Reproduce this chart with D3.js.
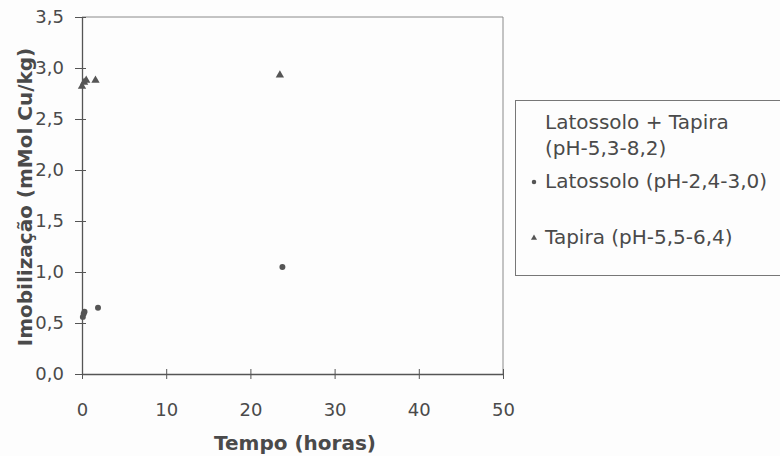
<!DOCTYPE html>
<html>
<head>
<meta charset="utf-8">
<script src="https://cdn.jsdelivr.net/npm/d3@7"></script>
<style>
  body { margin: 0; background: #fdfdfd; }
  text { font-family: "DejaVu Sans", sans-serif; fill: #4a4a4a; }
</style>
</head>
<body>
<script>
'use strict';

// values
const xTicks = [0, 10, 20, 30, 40, 50];
const yTicks = [0, 0.5, 1, 1.5, 2, 2.5, 3, 3.5];

const mixTime = [];
const mixValue = [];
const latoTime = [0.1, 0.2, 0.3, 1.9, 23.8];
const latoValue = [0.56, 0.59, 0.61, 0.65, 1.05];
const tapiraTime = [0, 0.25, 0.5, 1.6, 23.5];
const tapiraValue = [2.82, 2.86, 2.88, 2.88, 2.93];

const seriesNames = ['Latossolo + Tapira', 'Latossolo (pH-2,4-3,0)', 'Tapira (pH-5,5-6,4)'];

(function() {
  const svg = d3.select('body').append('svg')
    .attr('width', 780)
    .attr('height', 456);

  const xScale = d3.scaleLinear().domain([0, 50]).range([82, 503]);
  const yScale = d3.scaleLinear().domain([0, 3.5]).range([374, 17]);

  // plot frame (top and right edge are lighter)
  svg.append('line')
    .attr('x1', xScale(0)).attr('x2', xScale(50))
    .attr('y1', yScale(3.5)).attr('y2', yScale(3.5))
    .attr('stroke', '#8a8a8a').attr('stroke-width', 1);
  svg.append('line')
    .attr('x1', xScale(50)).attr('x2', xScale(50))
    .attr('y1', yScale(3.5)).attr('y2', yScale(0))
    .attr('stroke', '#8a8a8a').attr('stroke-width', 1);

  // axes
  const xAxis = d3.axisBottom(xScale).tickValues(xTicks)
    .tickSizeInner(5).tickSizeOuter(0).tickFormat(d3.format('d'));
  const gx = svg.append('g')
    .attr('transform', `translate(0, ${yScale(0)})`)
    .call(xAxis);
  gx.select('.domain').attr('stroke', '#555').attr('stroke-width', 1.3);
  gx.selectAll('.tick line').attr('stroke', '#555').attr('y1', -5).attr('y2', 5);
  gx.selectAll('.tick text')
    .attr('y', 42).attr('dy', 0)
    .style('font-size', '18px')
    .style('font-family', '"DejaVu Sans", sans-serif')
    .attr('fill', '#4a4a4a');

  const fmt = d => d3.format('.1f')(d).replace('.', ',');
  const yAxis = d3.axisLeft(yScale).tickValues(yTicks)
    .tickSizeInner(6).tickSizeOuter(0).tickFormat(fmt);
  const gy = svg.append('g')
    .attr('transform', `translate(${xScale(0)}, 0)`)
    .call(yAxis);
  gy.select('.domain').attr('stroke', '#555').attr('stroke-width', 1.3);
  gy.selectAll('.tick line').attr('stroke', '#555').attr('x1', -7).attr('x2', 4);
  gy.selectAll('.tick text')
    .attr('x', -18)
    .style('font-size', '18px')
    .style('font-family', '"DejaVu Sans", sans-serif')
    .attr('fill', '#4a4a4a');

  // points
  const tri = d3.symbol().type(d3.symbolTriangle).size(30);
  const circ = d3.symbol().type(d3.symbolCircle).size(28);

  svg.selectAll('.mix')
    .data(d3.zip(mixTime, mixValue))
    .enter().append('path')
    .attr('transform', d => `translate(${xScale(d[0])}, ${yScale(d[1])})`)
    .attr('d', circ)
    .attr('fill', '#eeeeee');

  svg.selectAll('.lato')
    .data(d3.zip(latoTime, latoValue))
    .enter().append('path')
    .attr('transform', d => `translate(${xScale(d[0])}, ${yScale(d[1])})`)
    .attr('d', circ)
    .attr('fill', '#555');

  svg.selectAll('.tapira')
    .data(d3.zip(tapiraTime, tapiraValue))
    .enter().append('path')
    .attr('transform', d => `translate(${xScale(d[0])}, ${yScale(d[1])})`)
    .attr('d', tri)
    .attr('fill', '#555');

  // axis titles
  svg.append('text')
    .attr('x', 295)
    .attr('y', 450)
    .attr('text-anchor', 'middle')
    .style('font-size', '20px')
    .style('font-weight', 'bold')
    .text('Tempo (horas)');

  svg.append('text')
    .attr('transform', 'translate(32, 197)rotate(-90)')
    .attr('text-anchor', 'middle')
    .style('font-size', '20px')
    .style('font-weight', 'bold')
    .text('Imobilização (mMol Cu/kg)');

  // legend
  const legend = svg.append('g');
  legend.append('rect')
    .attr('x', 515.5).attr('y', 100.5)
    .attr('width', 270).attr('height', 175)
    .attr('fill', 'none')
    .attr('stroke', '#777').attr('stroke-width', 1);

  legend.append('text').attr('x', 545).attr('y', 129)
    .style('font-size', '20px').text(seriesNames[0]);
  legend.append('text').attr('x', 545).attr('y', 155)
    .style('font-size', '20px').text('(pH-5,3-8,2)');
  legend.append('text').attr('x', 545).attr('y', 188)
    .style('font-size', '20px').text(seriesNames[1]);
  legend.append('text').attr('x', 545).attr('y', 244)
    .style('font-size', '20px').text(seriesNames[2]);

  legend.append('path')
    .attr('transform', 'translate(534, 182)')
    .attr('d', d3.symbol().type(d3.symbolCircle).size(16))
    .attr('fill', '#555');
  legend.append('path')
    .attr('transform', 'translate(534, 238)')
    .attr('d', d3.symbol().type(d3.symbolTriangle).size(16))
    .attr('fill', '#555');
})();
</script>
</body>
</html>
